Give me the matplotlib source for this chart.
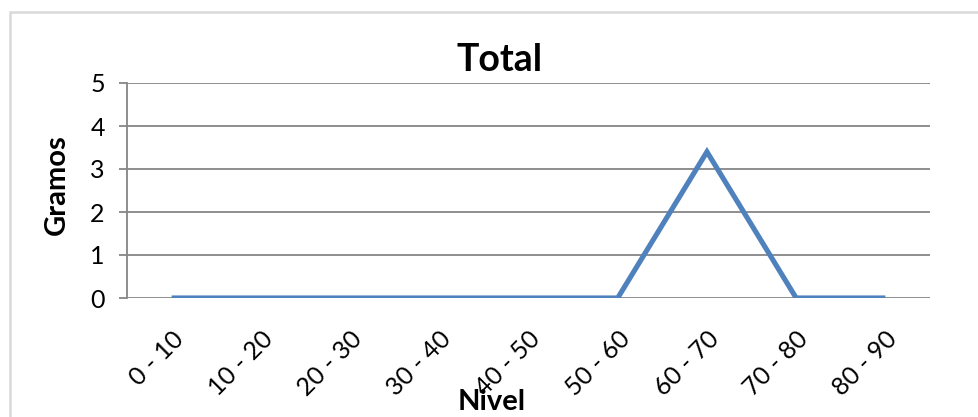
import matplotlib.pyplot as plt
from matplotlib.patches import Rectangle

niveles = ["0 - 10", "10 - 20", "20 - 30", "30 - 40", "40 - 50",
           "50 - 60", "60 - 70", "70 - 80", "80 - 90"]
gramos = [0, 0, 0, 0, 0, 0, 3.4, 0, 0]
y_ticks = [0, 1, 2, 3, 4, 5]

plt.rcParams["font.family"] = ["Lato", "DejaVu Sans"]

W, H = 979, 417
fig = plt.figure(figsize=(W / 100, H / 100), dpi=100)

# chart frame, clipped on the right and bottom
fig.patches.append(Rectangle((10 / W, -0.1), 1.2, 1 - 12 / H + 0.1,
                             transform=fig.transFigure, fill=False,
                             edgecolor="#d9d9d9", linewidth=1.8))

ax = fig.add_axes([127 / W, 1 - 298 / H, (930 - 127) / W, (298 - 83) / H])

x = list(range(len(niveles)))
ax.plot(x, gramos, color="#4f81bd", linewidth=3.7,
        solid_capstyle="butt", solid_joinstyle="miter")

ax.set_xlim(-0.5, len(niveles) - 0.5)
ax.set_ylim(0, 5)
ax.set_yticks(y_ticks)
ax.yaxis.grid(True, color="#868686", linewidth=1.3)
ax.set_axisbelow(True)

ax.set_xticks(x)
ax.set_xticklabels(niveles, rotation=45, ha="right", va="top",
                   rotation_mode="anchor", fontsize=18)
ax.tick_params(axis="x", length=0, pad=21)
ax.tick_params(axis="y", length=6, width=1.3, color="#868686",
               labelsize=18, pad=10)

for side in ["top", "right", "bottom"]:
    ax.spines[side].set_visible(False)
ax.spines["left"].set_color("#868686")
ax.spines["left"].set_linewidth(1.3)

fig.text(500 / W, 1 - 60 / H, "Total", ha="center", va="center",
         fontsize=27, fontweight="bold")
fig.text(57 / W, 1 - 185 / H, "Gramos", ha="center", va="center",
         rotation=90, fontsize=21, fontweight="bold")
fig.text(492 / W, 1 - 402 / H, "Nivel", ha="center", va="center",
         fontsize=21, fontweight="bold")

fig.savefig("out.png", dpi=100)
